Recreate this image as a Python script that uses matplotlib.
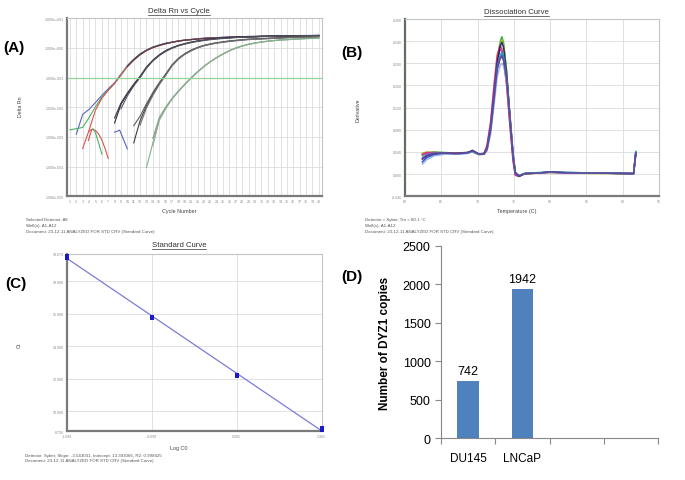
import numpy as np
import matplotlib.pyplot as plt
from matplotlib.lines import Line2D

plt.rcParams["font.family"] = ["Liberation Sans", "DejaVu Sans"]

# ── DATA ─────────────────────────────────────────────────────────────────────
# (A) amplification plot, log10(Delta Rn) per cycle, (first cycle, values)
amp_curves = [
    # group 1 (highest standard)
    (2, "#5563c1", [-2.91, -2.24, -2.07, -1.84, -1.60, -1.38, -1.17, -0.88, -0.60, -0.38, -0.20, -0.07,
                    0.03, 0.10, 0.16, 0.20, 0.24, 0.27, 0.29, 0.31, 0.33, 0.34, 0.35, 0.36, 0.37, 0.38,
                    0.38, 0.39, 0.39, 0.40, 0.40, 0.40, 0.41, 0.41, 0.41, 0.41, 0.42, 0.42, 0.42]),
    (1, "#4fb060", [-2.76, -2.72, -2.68, -2.35, -1.98, -1.66, -1.42, -1.19, -0.90, -0.62, -0.40, -0.22,
                    -0.08, 0.02, 0.09, 0.15, 0.19, 0.23, 0.26, 0.28, 0.30, 0.32, 0.33, 0.34, 0.35, 0.36,
                    0.37, 0.37, 0.38, 0.38, 0.39, 0.39, 0.39, 0.40, 0.40, 0.40, 0.40, 0.41, 0.41, 0.41]),
    (3, "#d9534f", [-3.39, -2.78, -2.10, -1.70, -1.43, -1.20, -0.92, -0.63, -0.41, -0.23, -0.09, 0.01,
                    0.08, 0.14, 0.19, 0.23, 0.26, 0.28, 0.30, 0.32, 0.33, 0.34, 0.35, 0.36, 0.37, 0.37,
                    0.38, 0.38, 0.39, 0.39, 0.40, 0.40, 0.40, 0.41, 0.41, 0.41, 0.41, 0.41]),
    # group 2
    (8, "#24243a", [-2.53, -1.90, -1.55, -1.25, -0.98, -0.66, -0.42, -0.24, -0.10, 0.00, 0.08, 0.14,
                    0.19, 0.23, 0.26, 0.29, 0.31, 0.33, 0.34, 0.36, 0.37, 0.37, 0.38, 0.39, 0.39, 0.40,
                    0.40, 0.40, 0.41, 0.41, 0.41, 0.42, 0.42]),
    (8, "#3a3a4c", [-2.36, -1.86, -1.52, -1.22, -0.95, -0.64, -0.41, -0.23, -0.09, 0.01, 0.09, 0.15,
                    0.20, 0.24, 0.27, 0.30, 0.32, 0.34, 0.35, 0.36, 0.37, 0.38, 0.39, 0.39, 0.40, 0.40,
                    0.41, 0.41, 0.41, 0.42, 0.42, 0.42, 0.43]),
    (9, "#555560", [-2.05, -1.62, -1.28, -1.00, -0.68, -0.44, -0.26, -0.12, -0.01, 0.07, 0.13, 0.18,
                    0.22, 0.25, 0.28, 0.30, 0.32, 0.33, 0.35, 0.36, 0.37, 0.37, 0.38, 0.39, 0.39, 0.40,
                    0.40, 0.40, 0.41, 0.41, 0.41, 0.42]),
    # group 3
    (11, "#3c3c3c", [-3.20, -2.45, -1.95, -1.55, -1.20, -0.90, -0.58, -0.36, -0.20, -0.08, 0.01, 0.08,
                     0.13, 0.17, 0.20, 0.23, 0.25, 0.27, 0.29, 0.30, 0.31, 0.32, 0.33, 0.34, 0.35, 0.36,
                     0.36, 0.37, 0.37, 0.38]),
    (11, "#5c5c5c", [-2.62, -2.30, -1.88, -1.50, -1.17, -0.88, -0.57, -0.35, -0.19, -0.07, 0.02, 0.09,
                     0.14, 0.18, 0.21, 0.24, 0.26, 0.28, 0.30, 0.31, 0.32, 0.33, 0.34, 0.35, 0.36, 0.36,
                     0.37, 0.37, 0.38, 0.38]),
    (12, "#707074", [-2.60, -2.02, -1.60, -1.24, -0.93, -0.61, -0.38, -0.22, -0.10, 0.00, 0.07, 0.12,
                     0.16, 0.19, 0.22, 0.24, 0.26, 0.28, 0.29, 0.30, 0.31, 0.32, 0.33, 0.34, 0.35, 0.35,
                     0.36, 0.36, 0.37]),
    # group 4 (lowest standard)
    (14, "#8c8c8c", [-3.05, -2.35, -2.00, -1.70, -1.45, -1.22, -1.00, -0.80, -0.62, -0.46, -0.32, -0.20,
                     -0.09, 0.00, 0.07, 0.13, 0.17, 0.20, 0.23, 0.25, 0.27, 0.28, 0.30, 0.31, 0.32, 0.33,
                     0.33]),
    (14, "#a8a8a8", [-3.30, -2.45, -2.05, -1.73, -1.47, -1.24, -1.02, -0.82, -0.63, -0.47, -0.33, -0.21,
                     -0.10, -0.01, 0.06, 0.12, 0.16, 0.20, 0.22, 0.25, 0.27, 0.28, 0.29, 0.30, 0.31, 0.32,
                     0.33]),
    (13, "#7fb487", [-4.03, -3.20, -2.40, -2.02, -1.71, -1.46, -1.23, -1.01, -0.81, -0.62, -0.46, -0.32,
                     -0.20, -0.09, 0.00, 0.07, 0.12, 0.17, 0.20, 0.23, 0.25, 0.27, 0.28, 0.29, 0.31, 0.32,
                     0.32, 0.33]),
]
# the first group looks dark once it is past the threshold
dark_after_cycle = 10
dark_group = 3
# short pre-baseline pieces
amp_fragments = [
    ("#d9534f", [4.0, 4.5, 5.0, 5.5, 6.0, 6.5, 7.0], [-2.80, -2.74, -2.78, -2.90, -3.10, -3.38, -3.72]),
    ("#4fb060", [4.6, 5.0, 5.5, 6.0], [-2.72, -2.85, -3.20, -3.58]),
    ("#5563c1", [8.0, 8.8, 10.0], [-2.84, -2.77, -3.40]),
    ("#d9534f", [3.9, 4.4], [-3.12, -2.76]),
]
threshold = 0.1
cycles = list(range(1, 41))
amp_ytick_labels = ["1.000e-005", "1.000e-004", "1.000e-003", "1.000e-002",
                    "1.000e-001", "1.000e+000", "1.000e+001"]

# (B) dissociation curve
melt_temp = [62.4, 63.0, 64.0, 65.5, 67.0, 68.5, 69.3, 70.2, 70.9, 71.3, 71.8, 72.3, 72.7, 73.1,
             73.35, 73.6, 74.0, 74.5, 74.9, 75.2, 75.7, 76.5, 78.5, 80.0, 82.5, 86.0, 91.5, 91.8]
melt_curves = [
    ("#2ca02c", [0.034, 0.038, 0.040, 0.039, 0.038, 0.039, 0.041, 0.036, 0.037, 0.047, 0.085, 0.150, 0.205, 0.238,
                 0.248, 0.236, 0.185, 0.095, 0.030, 0.001, -0.003, 0.001, 0.002, 0.004, 0.002, 0.002, 0.001, 0.040]),
    ("#a8c81e", [0.038, 0.040, 0.039, 0.038, 0.037, 0.038, 0.040, 0.035, 0.036, 0.045, 0.080, 0.145, 0.200, 0.233,
                 0.242, 0.232, 0.188, 0.100, 0.034, 0.002, -0.004, 0.000, 0.002, 0.003, 0.002, 0.001, 0.001, 0.038]),
    ("#e0302a", [0.036, 0.039, 0.039, 0.038, 0.038, 0.039, 0.040, 0.036, 0.038, 0.052, 0.095, 0.165, 0.215, 0.232,
                 0.226, 0.205, 0.160, 0.080, 0.022, -0.002, -0.004, 0.001, 0.002, 0.003, 0.002, 0.002, 0.001, 0.036]),
    ("#d030c8", [0.035, 0.038, 0.038, 0.038, 0.037, 0.038, 0.041, 0.036, 0.037, 0.050, 0.090, 0.158, 0.205, 0.225,
                 0.222, 0.205, 0.165, 0.085, 0.025, -0.001, -0.004, 0.001, 0.002, 0.004, 0.002, 0.002, 0.001, 0.037]),
    ("#2040c0", [0.022, 0.030, 0.035, 0.037, 0.037, 0.038, 0.042, 0.036, 0.036, 0.044, 0.078, 0.138, 0.188, 0.210,
                 0.215, 0.208, 0.175, 0.098, 0.035, 0.003, -0.003, 0.001, 0.002, 0.004, 0.003, 0.002, 0.001, 0.039]),
    ("#1a1a78", [0.027, 0.033, 0.037, 0.038, 0.037, 0.038, 0.043, 0.036, 0.037, 0.046, 0.084, 0.148, 0.200, 0.230,
                 0.238, 0.228, 0.182, 0.096, 0.032, 0.002, -0.004, 0.001, 0.002, 0.004, 0.002, 0.002, 0.001, 0.038]),
    ("#8fb0e8", [0.018, 0.026, 0.033, 0.036, 0.036, 0.037, 0.040, 0.035, 0.036, 0.042, 0.072, 0.128, 0.175, 0.196,
                 0.200, 0.195, 0.168, 0.100, 0.038, 0.004, -0.002, 0.001, 0.002, 0.003, 0.002, 0.002, 0.001, 0.037]),
    ("#20a0a8", [0.030, 0.035, 0.038, 0.038, 0.037, 0.038, 0.041, 0.036, 0.037, 0.046, 0.082, 0.143, 0.193, 0.215,
                 0.220, 0.212, 0.176, 0.094, 0.031, 0.002, -0.003, 0.001, 0.003, 0.004, 0.003, 0.002, 0.001, 0.041]),
    ("#6a3d9a", [0.028, 0.034, 0.037, 0.038, 0.037, 0.038, 0.042, 0.036, 0.036, 0.045, 0.080, 0.140, 0.190, 0.208,
                 0.212, 0.205, 0.172, 0.097, 0.034, 0.003, -0.003, 0.001, 0.002, 0.004, 0.002, 0.002, 0.001, 0.038]),
]
melt_xticks = [60, 65, 70, 75, 80, 85, 90, 95]
melt_yticks = [-0.04, 0.0, 0.04, 0.08, 0.12, 0.16, 0.20, 0.24, 0.28]

# (C) standard curve
std_logc0 = [-1.699, -1.699, -1.699, -0.699, -0.699, 0.301, 0.301, 0.301, 1.301, 1.301, 1.301]
std_ct = [19.58, 19.50, 19.42, 15.80, 15.75, 12.24, 12.16, 12.20, 8.98, 8.88, 8.82]
std_slope = -3.543031
std_intercept = 13.393066
std_xticks = [-1.699, -0.699, 0.301, 1.301]
std_yticks = [8.756, 10.0, 12.0, 14.0, 16.0, 18.0, 19.673]

# (D) DYZ1 copy number
cell_lines = ["DU145", "LNCaP"]
dyz1_copies = [742, 1942]
n_slots = 4

# ── FIGURE ───────────────────────────────────────────────────────────────────
W, H = 685, 481
fig = plt.figure(figsize=(W / 100, H / 100), dpi=100)
fig.patch.set_facecolor("white")


def fx(x):
    return x / W


def fy(y):
    return 1 - y / H


GRID = "#dcdcdc"
TICKC = "#8a8a8a"


def sds_style(ax):
    ax.grid(True, color=GRID, linewidth=0.6)
    ax.set_axisbelow(True)
    for s in ["top", "right"]:
        ax.spines[s].set_color("#c4c4c4")
        ax.spines[s].set_linewidth(0.8)
    for s in ["left", "bottom"]:
        ax.spines[s].set_color("#7a7a7a")
        ax.spines[s].set_linewidth(1.6)
    ax.tick_params(length=0, labelsize=2.6, colors=TICKC, pad=2)


titles = []


def panel_text(title, tx, ty, ylab, yx, yy, xlab, xx, xy, foot, footx, footy):
    t = fig.text(fx(tx), fy(ty), title, fontsize=5.6, color="#333333", ha="center", va="center")
    titles.append(t)
    fig.text(fx(yx), fy(yy), ylab, fontsize=3.8, color="#444444", rotation=90, ha="center", va="center")
    fig.text(fx(xx), fy(xy), xlab, fontsize=3.9, color="#444444", ha="center", va="center")
    for line, y in zip(foot, footy):
        fig.text(fx(footx), fy(y), line, fontsize=3.2, color="#555555", ha="left", va="center")


# ── (A) Delta Rn vs Cycle ────────────────────────────────────────────────────
axA = fig.add_axes([fx(66.7), fy(197.3), fx(322 - 66.7), (197.3 - 19.3) / H])
for i, (start, color, vals) in enumerate(amp_curves):
    xs = np.arange(len(vals)) + start
    ys = 10 ** np.array(vals)
    axA.plot(xs, ys, color=color, linewidth=0.8)
    if i < dark_group:
        keep = xs >= dark_after_cycle
        axA.plot(xs[keep], ys[keep], color="#2e2e48", linewidth=0.7, alpha=0.75)
for color, xs, vals in amp_fragments:
    axA.plot(xs, 10 ** np.array(vals), color=color, linewidth=0.8)
axA.axhline(threshold, color="#96d396", linewidth=0.9)
axA.set_yscale("log")
axA.set_ylim(1e-5, 1e1)
axA.set_xlim(0.5, 40.5)
axA.set_xticks(cycles)
axA.set_xticklabels([str(c) for c in cycles])
axA.set_yticks([10.0 ** k for k in range(-5, 2)])
axA.set_yticklabels(amp_ytick_labels)
axA.yaxis.set_minor_locator(plt.NullLocator())
sds_style(axA)

panel_text("Delta Rn vs Cycle", 179, 11.7, "Delta Rn", 20, 107, "Cycle Number", 179, 212,
           ["Selected Detector: All", "Well(s): A1-A12",
            "Document: 23-12-11 ANALYZED FOR STD CRV (Standard Curve)"], 26, [220, 226, 231.5])

# ── (B) Dissociation Curve ───────────────────────────────────────────────────
axB = fig.add_axes([fx(405), fy(197.3), fx(659 - 405), (197.3 - 20) / H])
for color, vals in melt_curves:
    axB.plot(melt_temp, vals, color=color, linewidth=1.1, alpha=0.9)
axB.set_xlim(60, 95)
axB.set_ylim(-0.04, 0.28)
axB.set_xticks(melt_xticks)
axB.set_xticklabels([str(t) for t in melt_xticks])
axB.set_yticks(melt_yticks)
axB.set_yticklabels([f"{v:.3f}" for v in melt_yticks])
sds_style(axB)
axB.spines["left"].set_color("#5f7060")

panel_text("Dissociation Curve", 516.7, 12.7, "Derivative", 358, 110, "Temperature (C)", 517, 212,
           ["Detector = Syber, Tm = 80.1 \u00b0C", "Well(s): A1-A12",
            "Document: 23-12-11 ANALYZED FOR STD CRV (Standard Curve)"], 365, [220, 226, 232])

# ── (C) Standard Curve ───────────────────────────────────────────────────────
axC = fig.add_axes([fx(66.7), fy(432.3), fx(321.7 - 66.7), (432.3 - 255) / H])
fit_x = np.array([std_xticks[0], std_xticks[-1]])
axC.plot(fit_x, std_slope * fit_x + std_intercept, color="#7b7bd6", linewidth=0.9)
axC.scatter(std_logc0, std_ct, marker="s", s=9, color="#1a1ac8", zorder=3, linewidths=0, clip_on=False)
axC.set_xlim(std_xticks[0], std_xticks[-1])
axC.set_ylim(std_yticks[0], std_yticks[-1])
axC.set_xticks(std_xticks)
axC.set_xticklabels([f"{v:.3f}" for v in std_xticks])
axC.set_yticks(std_yticks)
axC.set_yticklabels([f"{v:.3f}" for v in std_yticks])
sds_style(axC)

panel_text("Standard Curve", 179, 246, "Ct", 19, 345, "Log C0", 179, 449,
           ["Detector: Syber, Slope: -3.543031, Intercept: 13.393066, R2: 0.998425",
            "Document: 23-12-11 ANALYZED FOR STD CRV (Standard Curve)"], 25, [456, 461])

# ── (D) DYZ1 copies ──────────────────────────────────────────────────────────
axD = fig.add_axes([fx(441), fy(439.3), fx(658 - 441), (439.3 - 246.7) / H])
pos = np.arange(1, len(cell_lines) + 1)
bars = axD.bar(pos, dyz1_copies, width=0.4, color="#4f81bd")
for b, v in zip(bars, dyz1_copies):
    axD.annotate(str(v), xy=(b.get_x() + b.get_width() / 2, v), xytext=(0, 3),
                 textcoords="offset points", ha="center", va="bottom", fontsize=9)
axD.set_xlim(0.5, n_slots + 0.5)
axD.set_ylim(0, 2500)
axD.set_yticks(range(0, 2501, 500))
axD.set_xticks(np.arange(0.5, n_slots + 1.0, 1.0))
axD.set_xticklabels([])
axD.set_xticks(pos, minor=True)
axD.set_xticklabels(cell_lines, minor=True)
axD.tick_params(axis="x", which="major", length=4, direction="out", color="#888888")
axD.tick_params(axis="x", which="minor", length=0, labelsize=8.5, pad=10)
axD.tick_params(axis="y", length=4, direction="out", color="#888888", labelsize=9)
axD.spines[["top", "right"]].set_visible(False)
axD.spines[["left", "bottom"]].set_color("#888888")
axD.set_ylabel("Number of DYZ1 copies", fontsize=8.5, fontweight="bold", labelpad=8)

# panel letters
for lab, x, y in [("(A)", 14, 48), ("(B)", 352, 53), ("(C)", 15.5, 284), ("(D)", 352, 277)]:
    fig.text(fx(x), fy(y), lab, fontsize=11, fontweight="bold", ha="center", va="center")

# underline the SDS titles
fig.canvas.draw()
for t in titles:
    bb = t.get_window_extent()
    fig.add_artist(Line2D([bb.x0 / W, bb.x1 / W], [(bb.y0 - 0.5) / H] * 2,
                          color="#333333", linewidth=0.5))

fig.savefig("out.png", dpi=100)
